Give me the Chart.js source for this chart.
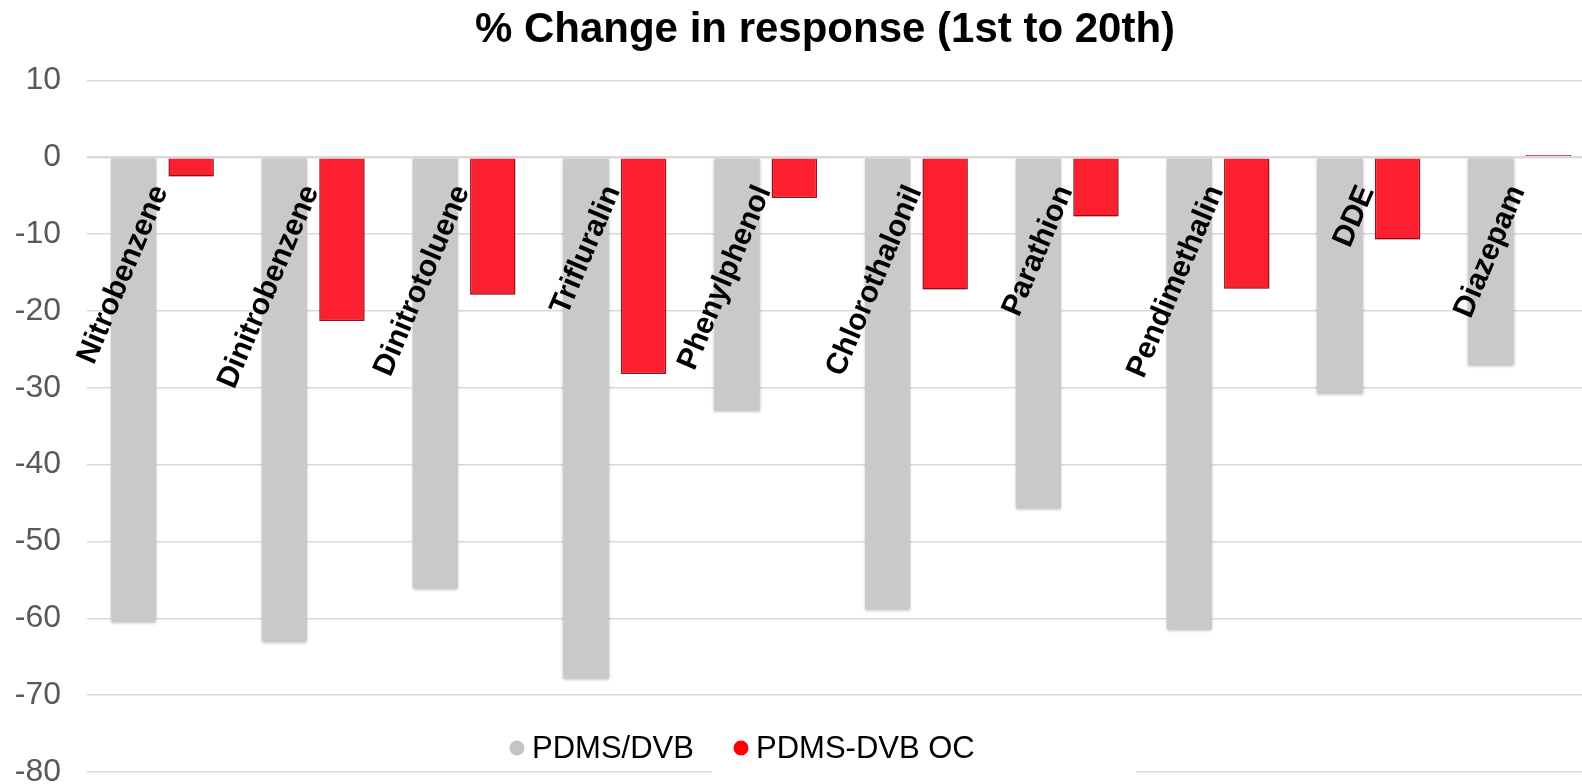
<!DOCTYPE html>
<html lang="en">

<head>
  <meta charset="UTF-8" />
  <title>% Change in response</title>
  <script src="https://cdn.jsdelivr.net/npm/chart.js"></script>
  <style>
    html, body { margin: 0; padding: 0; background: #fff; overflow: hidden; }
    #chart-container { width: 1650px; height: 784px; position: relative; }
  </style>
</head>

<body>
  <div id="chart-container">
    <canvas id="responseChart"></canvas>
  </div>

  <script>
    const compounds = ["Nitrobenzene", "Dinitrobenzene", "Dinitrotoluene", "Trifluralin", "Phenylphenol",
      "Chlorothalonil", "Parathion", "Pendimethalin", "DDE", "Diazepam"];
    const pdmsDvb = [-60.3, -62.9, -56.1, -67.8, -32.9, -58.8, -45.7, -61.4, -30.7, -26.9];
    const pdmsDvbOC = [-2.5, -21.3, -17.9, -28.2, -5.3, -17.2, -7.7, -17.1, -10.7, 0.3];
    const yTicks = [10, 0, -10, -20, -30, -40, -50, -60, -70, -80];

    const FONT = "'Liberation Sans', Arial, sans-serif";

    // soft drop shadow under the bars
    const barShadow = {
      id: 'barShadow',
      beforeDatasetsDraw(chart) {
        const ctx = chart.ctx;
        ctx.save();
        ctx.shadowColor = 'rgba(0,0,0,0.28)';
        ctx.shadowBlur = 3;
        ctx.shadowOffsetY = 2;
      },
      afterDatasetsDraw(chart) {
        chart.ctx.restore();
      }
    };

    // let the y tick labels spill into the left padding (no clipping)
    const widenYAxis = {
      id: 'widenYAxis',
      afterLayout(chart) {
        chart.scales.y.left = 0;
      }
    };

    // category names hang under the zero line, rotated
    const categoryLabels = {
      id: 'categoryLabels',
      afterDatasetsDraw(chart) {
        const ctx = chart.ctx;
        const x = chart.scales.x;
        const y0 = chart.scales.y.getPixelForValue(0);
        ctx.save();
        ctx.font = 'bold 30px ' + FONT;
        ctx.fillStyle = '#000';
        ctx.textAlign = 'right';
        ctx.textBaseline = 'middle';
        compounds.forEach((name, i) => {
          ctx.save();
          ctx.translate(x.getPixelForValue(i) - 2, y0 + 30);
          ctx.rotate(-67 * Math.PI / 180);
          ctx.fillText(name, 0, 0);
          ctx.restore();
        });
        ctx.restore();
      }
    };

    // legend sits inside the plot, near the bottom
    const innerLegend = {
      id: 'innerLegend',
      afterDraw(chart) {
        const ctx = chart.ctx;
        const yBottom = chart.scales.y.getPixelForValue(-80);
        ctx.save();
        ctx.fillStyle = '#fff';
        ctx.fillRect(712, yBottom - 4, 424, 8);

        const items = [
          { x: 517, text: chart.data.datasets[0].label, color: '#C4C4C4' },
          { x: 741, text: chart.data.datasets[1].label, color: '#FF0000' }
        ];
        const cy = 748;
        ctx.font = '31px ' + FONT;
        ctx.textBaseline = 'middle';
        ctx.textAlign = 'left';
        items.forEach(it => {
          ctx.fillStyle = it.color;
          ctx.beginPath();
          ctx.arc(it.x, cy, 7.5, 0, Math.PI * 2);
          ctx.fill();
          ctx.fillStyle = '#000';
          ctx.fillText(it.text, it.x + 15, cy + 1);
        });
        ctx.restore();
      }
    };

    const ctx = document.getElementById("responseChart").getContext("2d");
    const chart = new Chart(ctx, {
      type: 'bar',
      data: {
        labels: compounds,
        datasets: [{
          label: 'PDMS/DVB',
          data: pdmsDvb,
          backgroundColor: '#C9C9C9',
          borderWidth: 0,
          categoryPercentage: 0.763,
          barPercentage: 0.79
        }, {
          label: 'PDMS-DVB OC',
          data: pdmsDvbOC,
          backgroundColor: '#FB1F2F',
          borderColor: '#AE121C',
          borderWidth: 1.5,
          categoryPercentage: 0.763,
          barPercentage: 0.79
        }]
      },
      options: {
        responsive: true,
        maintainAspectRatio: false,
        animation: false,
        layout: { padding: { left: 55, right: 55, top: 0, bottom: 12 } },
        scales: {
          x: {
            display: false
          },
          y: {
            min: -80,
            max: 10,
            afterBuildTicks(scale) {
              scale.ticks = yTicks.map(v => ({ value: v }));
            },
            afterFit(scale) {
              scale.width = 32;
              scale.paddingTop = 0;
              scale.paddingBottom = 0;
            },
            border: { display: false },
            grid: {
              color: '#D9D9D9',
              lineWidth: c => (c.tick && c.tick.value === 0 ? 2.5 : 1.5),
              drawTicks: false
            },
            ticks: {
              color: '#595959',
              padding: 26,
              font: { family: FONT, size: 32 }
            }
          }
        },
        plugins: {
          legend: { display: false },
          tooltip: { enabled: false },
          title: {
            display: true,
            text: '% Change in response (1st to 20th)',
            color: '#000',
            font: { family: FONT, size: 42, weight: 'bold', lineHeight: 1.2 },
            padding: { top: 5, bottom: 25 }
          }
        }
      },
      plugins: [widenYAxis, barShadow, categoryLabels, innerLegend]
    });
  </script>
</body>

</html>
